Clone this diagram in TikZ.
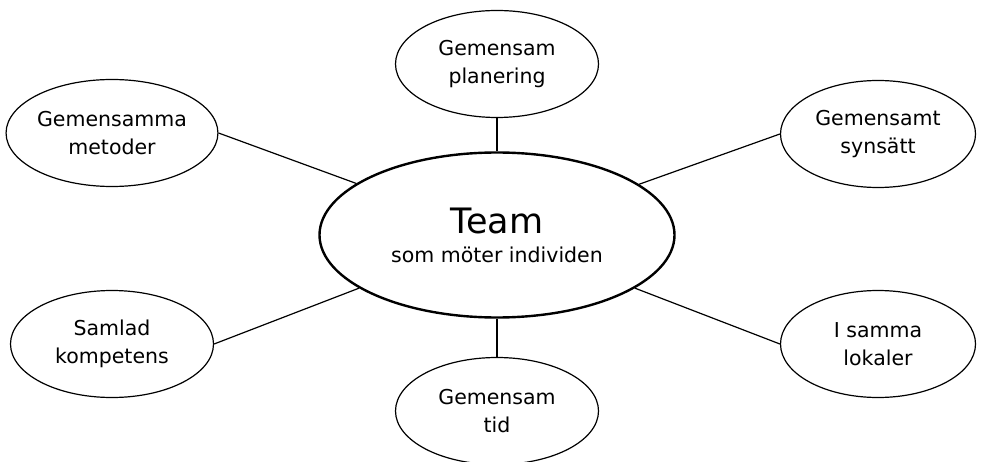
\documentclass[tikz,border=0pt]{standalone}
\usepackage{fontspec}
\setmainfont{DejaVu Sans}
\usetikzlibrary{shapes.geometric}
\begin{document}
\begin{tikzpicture}[x=1pt,y=-1pt,
  sat/.style={ellipse,draw,line width=1.2pt,inner sep=0pt,minimum width=203pt,minimum height=107pt,
    align=center,font=\fontsize{20.5}{28}\selectfont,execute at begin node={\rule{0pt}{30pt}}},
  hub/.style={ellipse,draw,line width=2.4pt,inner sep=0pt,minimum width=355pt,minimum height=165pt,align=center},
  link/.style={line width=1.2pt}]
\useasboundingbox (0,0) rectangle (981,462);
\clip (0,0) rectangle (981,462);
\node[hub] (c) at (497,235) {\fontsize{35}{35}\selectfont Team\\[12pt]\fontsize{20.5}{24}\selectfont som möter individen};
\node[sat] (t) at (497,64) {Gemensam\\planering};
\node[sat] (lt) at (112,133) {Gemensamma\\metoder};
\node[sat,minimum width=195pt] (rt) at (878,134) {Gemensamt\\synsätt};
\node[sat] (lb) at (112,344) {Samlad\\kompetens};
\node[sat,minimum width=195pt] (rb) at (878,344) {I samma\\lokaler};
\node[sat] (b) at (497,411) {Gemensam\\tid};
\draw[link] (t) -- (c);
\draw[link] (b) -- (c);
\draw[link] (lt.east) -- (c);
\draw[link] (lb.east) -- (c);
\draw[link] (rt.west) -- (c);
\draw[link] (rb.west) -- (c);
\end{tikzpicture}
\end{document}
